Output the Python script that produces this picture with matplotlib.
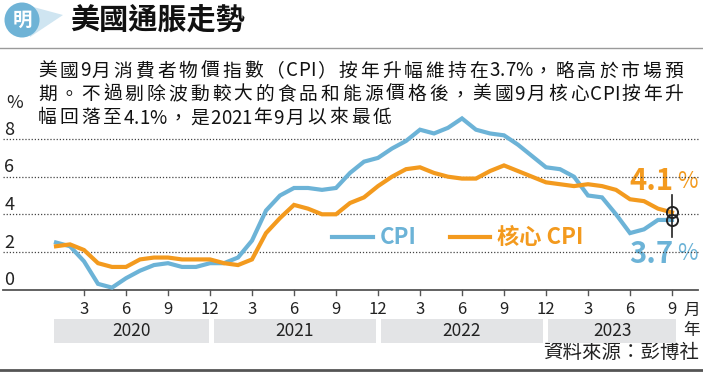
import numpy as np
import matplotlib.pyplot as plt
from matplotlib.patches import Circle, Polygon, Rectangle

plt.rcParams['font.family'] = ['Noto Sans CJK TC', 'DejaVu Sans']

# data: US CPI and core CPI, year-on-year %, Jan 2020 - Sep 2023
cpi = [2.5, 2.3, 1.5, 0.3, 0.1, 0.6, 1.0, 1.3, 1.4, 1.2, 1.2, 1.4,
       1.4, 1.7, 2.6, 4.2, 5.0, 5.4, 5.4, 5.3, 5.4, 6.2, 6.8, 7.0,
       7.5, 7.9, 8.5, 8.3, 8.6, 9.1, 8.5, 8.3, 8.2, 7.7, 7.1, 6.5,
       6.4, 6.0, 5.0, 4.9, 4.0, 3.0, 3.2, 3.7, 3.7]
core = [2.3, 2.4, 2.1, 1.4, 1.2, 1.2, 1.6, 1.7, 1.7, 1.6, 1.6, 1.6,
        1.4, 1.3, 1.6, 3.0, 3.8, 4.5, 4.3, 4.0, 4.0, 4.6, 4.9, 5.5,
        6.0, 6.4, 6.5, 6.2, 6.0, 5.9, 5.9, 6.3, 6.6, 6.3, 6.0, 5.7,
        5.6, 5.5, 5.6, 5.5, 5.3, 4.8, 4.7, 4.3, 4.1]
years = ['2020', '2021', '2022', '2023']
month_ticks = [3, 6, 9, 12]
y_ticks = [0, 2, 4, 6, 8]

title = '美國通脹走勢'
subtitle = ['美國9月消費者物價指數（CPI）按年升幅維持在3.7%，略高於市場預',
            '期。不過剔除波動較大的食品和能源價格後，美國9月核心CPI按年升',
            '幅回落至4.1%，是2021年9月以來最低']
source = '資料來源：彭博社'

BLUE = '#6cb3d7'
ORANGE = '#f39a1e'
W, H = 703, 372

fig = plt.figure(figsize=(W / 100, H / 100), dpi=100)

# pixel mapping of the plot: month index 0 (Jan 2020) at x=56, 14 px per month
# value 0 at y=289.5, 18.8 px per percentage point
x0, dx = 56, 14
y0, dy = 289.5, 18.8
ax = fig.add_axes([0, 0, 1, 1])
ax.set_xlim((0 - x0) / dx, (W - x0) / dx)
ax.set_ylim((y0 - H) / dy, y0 / dy)
ax.axis('off')

deco = fig.add_axes([0, 0, 1, 1], zorder=-1)
deco.set_xlim(0, W)
deco.set_ylim(H, 0)
deco.axis('off')

m = np.arange(len(cpi))
xl, xr = (3 - x0) / dx, (698 - x0) / dx

# grid and baseline
for v in y_ticks[1:]:
    ax.plot([xl, xr], [v, v], ls=(0, (1, 1.5)), color='#444444', lw=0.9)
ax.plot([xl, xr], [0, 0], color='#555555', lw=1.3)
for v in y_ticks:
    ax.text(xl + 0.1, v + 0.5, str(v), fontsize=13, ha='left', va='center', color='#222222')
deco.text(6, 103, '%', fontsize=13, ha='left', va='center', color='#222222')

# month ticks and labels
tick_px = 5 / dy
for i in range(len(cpi)):
    mm = i % 12 + 1
    if mm in month_ticks:
        ax.plot([i, i], [0, -tick_px], color='#555555', lw=1)
        ax.text(i, -20.5 / dy, str(mm), fontsize=12, ha='center', va='center', color='#222222')
deco.text(692, 310, '月', fontsize=12, ha='center', va='center', color='#222222')
deco.text(692, 331, '年', fontsize=12, ha='center', va='center', color='#222222')

# year bands
band_lo, band_hi = -29.5 / dy, -53.2 / dy
starts = [-0.15, 11.25, 23.2, 35.15]
ends = [10.9, 22.85, 34.8, 44.3]
for yr, s, e in zip(years, starts, ends):
    ax.add_patch(Rectangle((s, band_hi), e - s, band_lo - band_hi,
                           color='#e3e4e6', lw=0))
    ax.text((s + e) / 2, (band_lo + band_hi) / 2, yr, fontsize=12.5,
            ha='center', va='center', color='#222222')

# data lines
ax.plot(m, cpi, color=BLUE, lw=3, solid_joinstyle='miter', zorder=3)
ax.plot(m, core, color=ORANGE, lw=3, solid_joinstyle='miter', zorder=4)

# end markers
last = len(cpi) - 1
ax.plot([last, last], [(y0 - 195) / dy, (y0 - 237) / dy], color='#222222', lw=1.2, zorder=5)
ax.plot([last], [core[-1]], marker='o', ms=8, mfc='none', mec='#222222', mew=1.4, zorder=6)
ax.plot([last], [cpi[-1]], marker='o', ms=8, mfc='none', mec='#222222', mew=1.4, zorder=6)
deco.text(673, 181, f'{core[-1]:.1f}', fontsize=21, fontweight='heavy', color=ORANGE,
          ha='right', va='center')
deco.text(677, 181, '%', fontsize=16, color=ORANGE, ha='left', va='center')
deco.text(673, 254, f'{cpi[-1]:.1f}', fontsize=21, fontweight='heavy', color=BLUE,
          ha='right', va='center')
deco.text(677, 254, '%', fontsize=16, color=BLUE, ha='left', va='center')

# legend
deco.plot([332, 373], [237, 237], color=BLUE, lw=3)
deco.text(380, 237, 'CPI', fontsize=16, fontweight='bold', color=BLUE, ha='left', va='center')
deco.plot([450, 490], [237, 237], color=ORANGE, lw=3)
deco.text(497, 237, '核心 CPI', fontsize=16, fontweight='bold', color=ORANGE,
          ha='left', va='center')

# header: logo, title, rule
deco.add_patch(Polygon([[26, 5], [63, 15], [30, 37]], closed=True, color='#cfe5f1', lw=0))
deco.add_patch(Circle((22, 20), 17.5, color='#6fb3d6', lw=0))
deco.text(22, 20, '明', fontsize=14, fontweight='bold', color='white', ha='center', va='center')
deco.text(70, 20, title, fontsize=21, fontweight='bold', color='#111111', ha='left', va='center')
deco.plot([0, W], [47.5, 47.5], color='#9a9a9a', lw=1)

# subtitle, set character by character; extra tracking only after CJK glyphs
renderer = fig.canvas.get_renderer()


def char_widths(line, size):
    ws = []
    for ch in line:
        t = deco.text(0, 0, ch, fontsize=size)
        ws.append(t.get_window_extent(renderer).width)
        t.remove()
    return ws


def is_wide(ch):
    return ord(ch) >= 0x2E80


sub_size = 13.5
widths = [char_widths(line, sub_size) for line in subtitle]
n_wide = sum(is_wide(ch) for ch in subtitle[0][:-1])
track = (683 - 38 - sum(widths[0])) / n_wide
for i, (line, ws) in enumerate(zip(subtitle, widths)):
    x = 38
    for j, (ch, w) in enumerate(zip(line, ws)):
        deco.text(x, 71 + i * 23.5, ch, fontsize=sub_size, color='#111111',
                  ha='left', va='center')
        x += w
        if is_wide(ch) or (j + 1 < len(line) and is_wide(line[j + 1])):
            x += track / 2 if not (is_wide(ch) and j + 1 < len(line) and is_wide(line[j + 1])) else track

# footer
deco.text(699, 352, source, fontsize=14, color='#222222', ha='right', va='center')
deco.plot([0, W], [369.5, 369.5], color='#555555', lw=2)

fig.savefig('out.png', dpi=100)
